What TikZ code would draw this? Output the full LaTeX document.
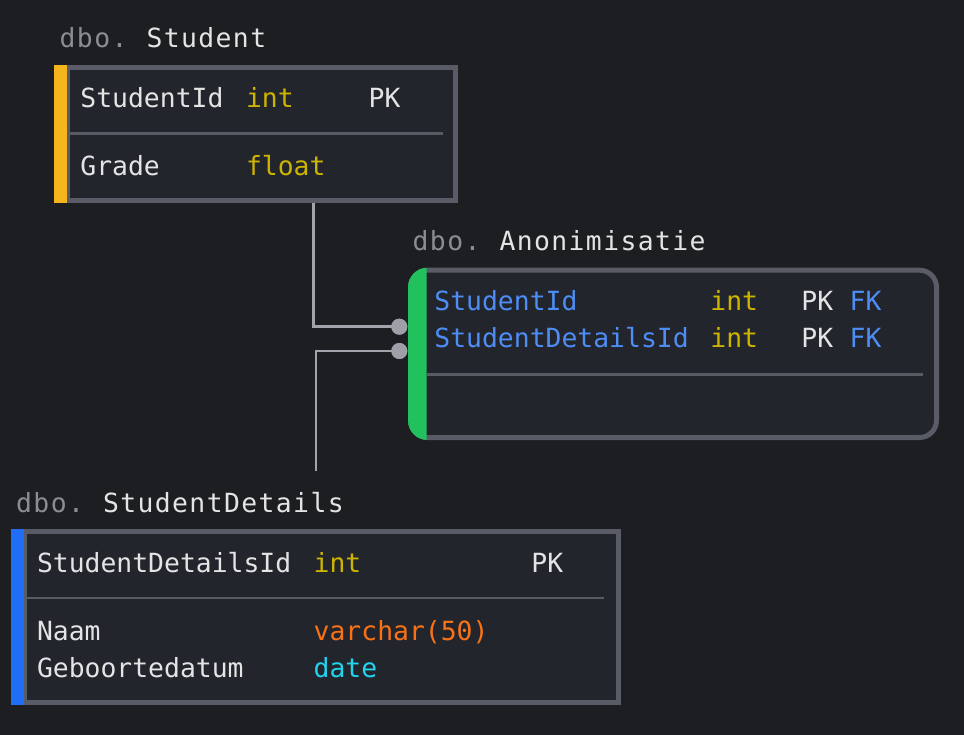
\documentclass[tikz,border=0pt]{standalone}
\usepackage{fontspec}
\newfontfamily\rowfont{DejaVu Sans Mono}
\newfontfamily\titlefont{DejaVu Sans Mono}[LetterSpace=5.3]
\definecolor{bg}{HTML}{1D1E22}
\definecolor{tblfill}{HTML}{22252C}
\definecolor{tblborder}{HTML}{595C66}
\definecolor{divcol}{HTML}{585B64}
\definecolor{txtcol}{HTML}{E4E4E4}
\definecolor{dbocol}{HTML}{8B8D94}
\definecolor{typeyellow}{HTML}{CCB400}
\definecolor{typeorange}{HTML}{F97316}
\definecolor{typecyan}{HTML}{22D3EE}
\definecolor{fkblue}{HTML}{4D8DF5}
\definecolor{bargreen}{HTML}{21C25E}
\definecolor{baryellow}{HTML}{F5B51C}
\definecolor{barblue}{HTML}{1F6EF5}
\definecolor{conncol}{HTML}{A3A4AB}
\definecolor{dotcol}{HTML}{9FA0A7}
\newcommand{\dbo}{\textcolor{dbocol}{dbo.}\hspace{-4pt}}
\begin{document}
\begin{tikzpicture}[x=1pt,y=-1pt,
  cell/.style={anchor=base west, inner sep=0pt, text=txtcol, font=\rowfont\fontsize{26.4}{30}\selectfont},
  ttl/.style={anchor=base west, inner sep=0pt, text=txtcol, font=\titlefont\fontsize{26.4}{30}\selectfont},
  tbl/.style={draw=tblborder, fill=tblfill, line width=5pt, inner sep=0pt},
  divline/.style={draw=divcol, line width=2.5pt},
  conn/.style={draw=conncol, line width=2.5pt},
  dot/.style={circle, fill=dotcol, inner sep=0pt, minimum size=16pt}]
\useasboundingbox (0,0) rectangle (964,735);
\fill[bg] (0,0) rectangle (964,735);

% ---------- Student ----------
\node[ttl] (tStudent) at (59.5,48) {\dbo{} Student};
\node[tbl, minimum width=387.7pt, minimum height=132.7pt] (student) at (261.35,133.85) {};
\fill[baryellow] (54,65) rectangle (67.3,202.7);
\draw[divline] (70,133.3) -- (443,133.3);
\node[cell] (s1n) at (80.2,108) {StudentId};
\node[cell, text=typeyellow] (s1t) at (245.8,108) {int};
\node[cell] (s1k) at (368.5,108) {PK};
\node[cell] (s2n) at (80.2,176) {Grade};
\node[cell, text=typeyellow] (s2t) at (245.8,176) {float};

% ---------- Anonimisatie ----------
\node[ttl] (tAnon) at (412.5,251) {\dbo{} Anonimisatie};
\node[tbl, rounded corners=17pt, minimum width=526pt, minimum height=167.3pt] (anon) at (673.5,353.85) {};
\begin{scope}
  \clip (400,260) rectangle (426.7,450);
  \fill[bargreen, rounded corners=19.5pt] (408,267.7) rectangle (939,440);
\end{scope}
\draw[divline] (426.7,374.3) -- (923.3,374.3);
\node[cell, text=fkblue] (a1n) at (434.2,310.7) {StudentId};
\node[cell, text=typeyellow] (a1t) at (710.2,310.7) {int};
\node[cell] (a1k) at (801.2,310.7) {PK};
\node[cell, text=fkblue] (a1f) at (849.5,310.7) {FK};
\node[cell, text=fkblue] (a2n) at (434.2,347.7) {StudentDetailsId};
\node[cell, text=typeyellow] (a2t) at (710.2,347.7) {int};
\node[cell] (a2k) at (801.2,347.7) {PK};
\node[cell, text=fkblue] (a2f) at (849.5,347.7) {FK};

% ---------- StudentDetails ----------
\node[ttl] (tDetails) at (16,512.7) {\dbo{} StudentDetails};
\node[tbl, minimum width=593.7pt, minimum height=171pt] (details) at (321.35,617) {};
\fill[barblue] (11,529) rectangle (24.3,705);
\draw[divline] (26.7,598) -- (604.3,598);
\node[cell] (d1n) at (36.8,572.3) {StudentDetailsId};
\node[cell, text=typeyellow] (d1t) at (313.5,572.3) {int};
\node[cell] (d1k) at (531.2,572.3) {PK};
\node[cell] (d2n) at (36.8,640) {Naam};
\node[cell, text=typeorange] (d2t) at (313.5,640) {varchar(50)};
\node[cell] (d3n) at (36.8,677.3) {Geboortedatum};
\node[cell, text=typecyan] (d3t) at (313.5,677.3) {date};

% ---------- connectors ----------
\coordinate (cS) at (313.3,202.7);
\coordinate (cD) at (316,471);
\node[dot] (end1) at (399.3,326.7) {};
\node[dot] (end2) at (399.3,351) {};
\draw[conn] (cS) |- (end1.center);
\draw[conn] (cD) |- (end2.center);
\node[dot] at (end1) {};
\node[dot] at (end2) {};
\end{tikzpicture}
\end{document}
